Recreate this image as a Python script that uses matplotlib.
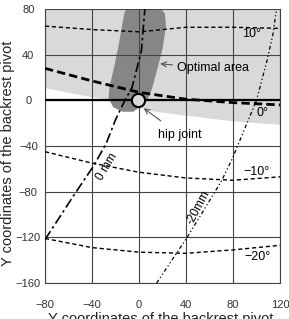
import matplotlib
matplotlib.use("Agg")
import matplotlib.pyplot as plt
import numpy as np

plt.rcParams['font.family'] = ['Liberation Sans', 'DejaVu Sans']

# ---- data ----
x_ticks = [-80, -40, 0, 40, 80, 120]
y_ticks = [-160, -120, -80, -40, 0, 40, 80]

# light-gray region lower boundary
region_x = [-80, -40, -25, 0, 10, 40, 80, 120]
region_y = [11, 3, 1, -6, -9, -13, -18, -21]

# optimal area outline
opt_x = [-9, 18, 22, 23, 20, 15, 11, 7, 2, -5, -14, -22, -26, -25, -21, -17, -14, -12]
opt_y = [81, 81, 76, 65, 45, 25, 10, 0, -5, -10, -10, -6, 2, 12, 30, 50, 68, 78]

# angle contours
ang_x = [-80, -40, 0, 40, 80, 120]
ang_p10 = [65, 62, 60, 64, 64, 63]
ang_0 = [28, 17, 7, 1, -2, -4]
ang_m10 = [-45, -55, -63, -68, -70, -67]
ang_m20 = [-121, -129, -133, -134, -131, -127]

# offset contours
off0_x = [-80, -56, -39, -28, -20, -12, -6, 2, 5]
off0_y = [-122, -84, -58, -38, -17, 0, 11, 43, 80]
offm20_x = [15, 41, 70, 79, 100, 109, 114, 117]
offm20_y = [-160, -120, -71, -52, 0, 35, 58, 80]

hip_x = [-1]
hip_y = [0]

fig = plt.figure(figsize=(2.89, 3.19), dpi=100)
ax = fig.add_axes([45/289, 1-283/319, 235/289, 274/319])
ax.set_xlim(-80, 120)
ax.set_ylim(-160, 80)

# regions
ax.fill_between(region_x, region_y, 80, color='#d9d9d9', lw=0, zorder=0)
ax.fill(opt_x, opt_y, color='#868686', lw=0, zorder=1)

# grid
for xv in x_ticks:
    ax.axvline(xv, color='#444444', lw=0.8, zorder=2)
for yv in y_ticks:
    ax.axhline(yv, color='#444444', lw=0.8, zorder=2)
ax.axhline(0, color='black', lw=1.6, zorder=3)

# angle lines
ax.plot(ang_x, ang_p10, color='black', lw=1.0, dashes=(3, 2), zorder=4)
ax.plot(ang_x, ang_0, color='black', lw=2.0, dashes=(3, 1.5), zorder=4)
ax.plot(ang_x, ang_m10, color='black', lw=1.0, dashes=(3, 2), zorder=4)
ax.plot(ang_x, ang_m20, color='black', lw=1.0, dashes=(3, 2), zorder=4)

# offset lines
ax.plot(off0_x, off0_y, color='black', lw=1.2, dashes=(6, 2, 1.5, 2), zorder=4)
ax.plot(offm20_x, offm20_y, color='black', lw=0.9, dashes=(3, 2, 1, 2, 1, 2), zorder=4)

# hip joint
ax.plot(hip_x, hip_y, 'o', ms=9.5, mfc='#d9d9d9', mec='black', mew=1.5, zorder=6)

# labels
fs = 9
ax.text(96, 58, "10°", fontsize=fs, ha='center', va='center', zorder=7)
ax.text(105, -11, "0°", fontsize=fs, ha='center', va='center', zorder=7)
ax.text(100, -63, "−10°", fontsize=fs, ha='center', va='center', zorder=7)
ax.text(101, -137, "−20°", fontsize=fs, ha='center', va='center', zorder=7)
ax.text(-27, -58, "0 mm", fontsize=8.5, rotation=59, ha='center', va='center', zorder=7)
ax.text(51, -94, "-20mm", fontsize=8.5, rotation=62, ha='center', va='center', zorder=7)

ax.annotate("Optimal area", xy=(18, 32), xytext=(32, 28), fontsize=fs,
            ha='left', va='center', zorder=7,
            arrowprops=dict(arrowstyle='->', color='#555555', lw=0.8, shrinkA=1, shrinkB=0))
ax.annotate("hip joint", xy=(4, -7), xytext=(35, -30), fontsize=fs,
            ha='center', va='center', zorder=7,
            arrowprops=dict(arrowstyle='->', color='#555555', lw=0.8, shrinkA=6, shrinkB=0,
                            relpos=(0.3, 1.0)))

# axes styling
ax.set_xticks(x_ticks)
ax.set_yticks(y_ticks)
ax.tick_params(length=0, labelsize=8, colors='#333333')
ax.tick_params(axis='y', pad=12)
ax.tick_params(axis='x', pad=12)
for lbl in ax.get_yticklabels():
    lbl.set_horizontalalignment('center')
ax.spines['top'].set_visible(False)
for s in ['left', 'bottom', 'right']:
    ax.spines[s].set_color('#444444')
    ax.spines[s].set_linewidth(0.8)

fig.text(8/289, 1-153/319, "Y coordinates of the backrest pivot", rotation=90,
         ha='center', va='center', fontsize=10.5, color='#222222')
fig.text(161/289, 1-312/319, "Y coordinates of the backrest pivot",
         ha='center', va='top', fontsize=10.5, color='#222222')

fig.savefig("out.png", dpi=100)
